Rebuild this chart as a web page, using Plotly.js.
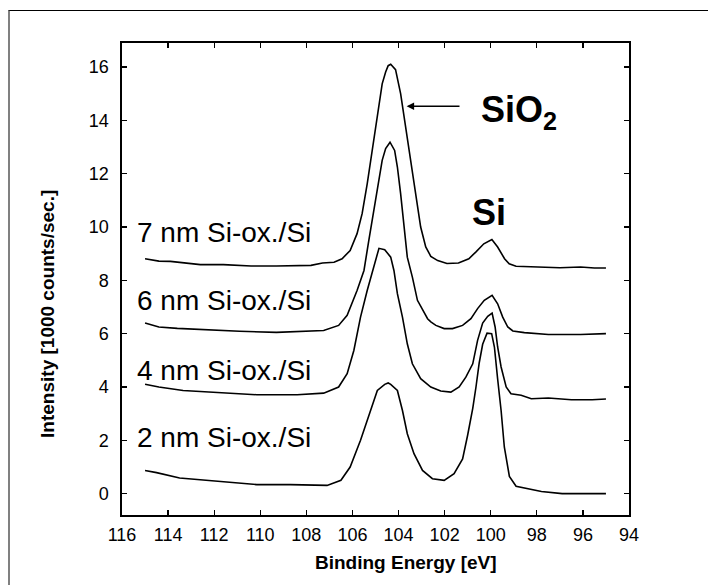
<!DOCTYPE html>
<html>
<head>
<meta charset="utf-8">
<script src="https://cdn.plot.ly/plotly-3.0.1.min.js"></script>
<style>
  html, body { margin: 0; padding: 0; background: #fff; }
  #wrap { position: relative; width: 708px; height: 585px; }
  #chart { position: absolute; left: 0; top: 0; width: 708px; height: 585px; }
  #frame { position: absolute; left: 8px; top: 10px; width: 700px; height: 575px;
           border-top: 1px solid #000; border-left: 2px solid #808080; box-sizing: border-box; pointer-events: none; }
</style>
</head>
<body>
<div id="wrap"><div id="chart"></div><div id="frame"></div></div>
<script>
// Binding energy (eV) and intensity (1000 counts/sec.)
const seriesNames = ["7 nm Si-ox./Si", "6 nm Si-ox./Si", "4 nm Si-ox./Si", "2 nm Si-ox./Si"];

const x7 = [115.0,114.4,113.9,112.6,111.6,110.4,109.3,107.8,107.3,106.8,106.45,106.1,105.8,105.58,105.36,105.14,104.92,104.71,104.56,104.45,104.34,104.13,103.91,103.69,103.47,103.26,103.04,102.82,102.6,102.3,101.9,101.4,100.95,100.65,100.3,99.95,99.7,99.4,99.2,98.9,98.2,97.0,96.1,95.5,95.0];
const y7 = [8.81,8.72,8.71,8.59,8.59,8.54,8.54,8.56,8.65,8.68,8.81,9.12,9.75,10.5,11.62,12.87,14.12,15.37,15.81,16.05,16.1,15.9,15.0,13.75,12.37,11.12,10.0,9.25,8.9,8.74,8.63,8.65,8.81,9.06,9.37,9.53,9.25,8.81,8.62,8.53,8.5,8.47,8.5,8.46,8.46];

const x6 = [115.0,114.4,113.6,112.6,110.9,109.3,108.1,107.25,106.6,106.23,105.8,105.5,105.29,105.07,104.85,104.71,104.56,104.37,104.17,104.05,103.91,103.76,103.62,103.4,103.18,102.74,102.6,102.38,102.02,101.66,101.22,100.86,100.57,100.28,99.94,99.7,99.48,99.26,99.04,98.54,97.5,96.1,95.0];
const y6 = [6.4,6.25,6.2,6.15,6.09,6.05,6.09,6.12,6.31,6.69,7.62,8.37,9.5,10.62,11.75,12.5,12.94,13.18,12.87,12.25,11.25,10.0,8.87,8.12,7.25,6.56,6.44,6.31,6.19,6.19,6.31,6.56,6.94,7.25,7.44,7.12,6.62,6.25,6.1,6.04,5.97,5.97,6.0];

const x4 = [115.0,114.4,113.35,111.6,110.15,108.4,107.25,106.6,106.23,105.94,105.65,105.36,105.07,104.85,104.6,104.34,104.2,104.05,103.83,103.62,103.4,103.04,102.6,102.17,101.73,101.37,101.08,100.78,100.57,100.35,100.13,99.94,99.81,99.7,99.55,99.33,99.12,98.68,98.24,97.5,96.5,95.6,95.0];
const y4 = [4.1,4.0,3.87,3.77,3.71,3.71,3.77,4.0,4.5,5.37,6.62,7.62,8.5,9.2,9.15,8.87,8.37,7.5,6.62,5.62,4.87,4.31,4.0,3.85,3.81,4.0,4.37,4.87,5.75,6.4,6.65,6.77,6.25,5.5,4.75,4.0,3.75,3.69,3.56,3.59,3.52,3.52,3.55];

const x2 = [115.0,114.5,113.5,112.3,111.3,110.15,108.7,107.1,106.5,106.1,105.65,105.22,104.92,104.6,104.45,104.34,104.05,103.83,103.62,103.33,102.96,102.53,102.02,101.59,101.22,101.0,100.78,100.64,100.5,100.35,100.16,99.96,99.84,99.7,99.55,99.41,99.19,98.9,98.4,97.8,96.9,95.0];
const y2 = [0.87,0.79,0.59,0.5,0.41,0.34,0.34,0.31,0.5,1.0,2.0,3.12,3.87,4.1,4.15,4.1,3.87,3.12,2.25,1.5,0.87,0.56,0.5,0.75,1.3,2.2,3.2,4.0,4.9,5.6,6.02,6.0,5.5,4.3,3.12,1.75,0.65,0.28,0.19,0.08,0.0,0.0];

const xTicks = [116,114,112,110,108,106,104,102,100,98,96,94];
const yTicks = [0,2,4,6,8,10,12,14,16];

const FONT = "Liberation Sans, Arial, Helvetica, sans-serif";
const line = {color: "#000", width: 1.6};

const traces = [[x7,y7],[x6,y6],[x4,y4],[x2,y2]].map((d,i) => ({
  x: d[0], y: d[1], type: "scatter", mode: "lines", line: line, name: seriesNames[i], hoverinfo: "x+y"
}));

const labelY = [9.8, 7.24, 4.61, 2.11];
const annotations = seriesNames.map((t,i) => ({
  x: 115.44, y: labelY[i], xref: "x", yref: "y", xanchor: "left", yanchor: "middle",
  text: t, showarrow: false, font: {family: FONT, size: 28, color: "#000"}
}));

annotations.push({
  x: 100.51, y: 14.3, xref: "x", yref: "y", xanchor: "left", yanchor: "middle",
  text: "<b>SiO<sub>2</sub></b>", showarrow: false, font: {family: FONT, size: 36, color: "#000"}
});
annotations.push({
  x: 100.06, y: 10.55, xref: "x", yref: "y", xanchor: "center", yanchor: "middle",
  text: "<b>Si</b>", showarrow: false, font: {family: FONT, size: 36, color: "#000"}
});
annotations.push({
  x: 103.65, y: 14.53, xref: "x", yref: "y", ax: 101.29, ay: 14.53, axref: "x", ayref: "y",
  text: "", showarrow: true, arrowhead: 2, arrowsize: 1, arrowwidth: 1.5, arrowcolor: "#000", standoff: 0
});
annotations.push({
  x: 0.5596, y: -0.1006, xref: "paper", yref: "paper", xanchor: "center", yanchor: "middle",
  text: "<b>Binding Energy [eV]</b>", showarrow: false, font: {family: FONT, size: 19, color: "#000"}
});
annotations.push({
  x: -0.146, y: 0.426, xref: "paper", yref: "paper", xanchor: "center", yanchor: "middle",
  text: "<b>Intensity [1000 counts/sec.]</b>", textangle: -90, showarrow: false, font: {family: FONT, size: 19, color: "#000"}
});

const axisCommon = {
  showline: true, linecolor: "#000", linewidth: 1.6, mirror: "ticks",
  ticks: "inside", ticklen: 5, tickwidth: 1.3, tickcolor: "#000",
  showgrid: false, zeroline: false,
  tickfont: {family: FONT, size: 18, color: "#000"}
};

const layout = {
  width: 708, height: 585,
  margin: {l: 122, r: 79, t: 43, b: 70, pad: 0},
  paper_bgcolor: "#fff", plot_bgcolor: "#fff",
  showlegend: false,
  font: {family: FONT, color: "#000"},
  xaxis: Object.assign({}, axisCommon, {range: [116, 94], tickvals: xTicks, ticktext: xTicks.map(String), ticklabelstandoff: 3}),
  yaxis: Object.assign({}, axisCommon, {range: [-0.8, 16.9], tickvals: yTicks, ticktext: yTicks.map(String), ticklabelstandoff: 8}),
  annotations: annotations
};

Plotly.newPlot("chart", traces, layout, {displayModeBar: false, staticPlot: true});
</script>
</body>
</html>
